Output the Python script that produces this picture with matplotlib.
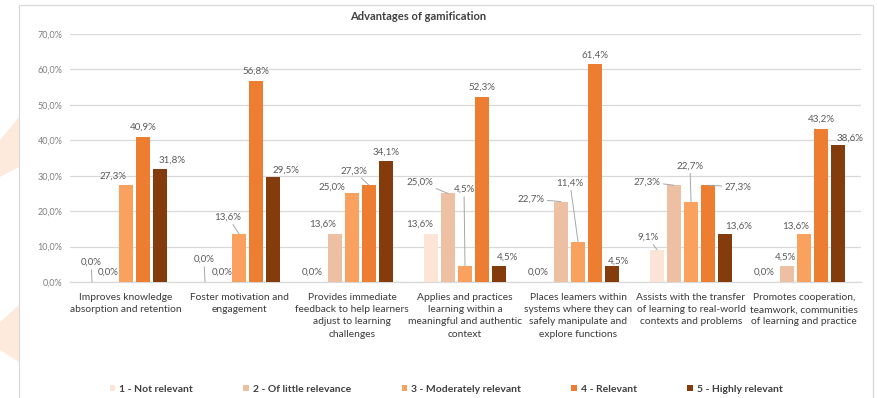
import matplotlib
matplotlib.use("Agg")
import matplotlib.pyplot as plt
from matplotlib.patches import Rectangle, Polygon

plt.rcParams['font.family'] = ['Lato', 'DejaVu Sans']

# ---- data ----
categories = [
    "Improves knowledge\nabsorption and retention",
    "Foster motivation and\nengagement",
    "Provides immediate\nfeedback to help learners\nadjust to learning\nchallenges",
    "Applies and practices\nlearning within a\nmeaningful and authentic\ncontext",
    "Places leamers within\nsystems where they can\nsafely manipulate and\nexplore functions",
    "Assists with the transfer\nof learning to real-world\ncontexts and problems",
    "Promotes cooperation,\nteamwork, communities\nof learning and practice",
]
series_names = [
    "1 - Not relevant",
    "2 - Of little relevance",
    "3 - Moderately relevant",
    "4 - Relevant",
    "5 - Highly relevant",
]
not_relevant      = [0.0, 0.0, 0.0, 13.6, 0.0, 9.1, 0.0]
little_relevance  = [0.0, 0.0, 13.6, 25.0, 22.7, 27.3, 4.5]
moderately        = [27.3, 13.6, 25.0, 4.5, 11.4, 22.7, 13.6]
relevant          = [40.9, 56.8, 27.3, 52.3, 61.4, 27.3, 43.2]
highly_relevant   = [31.8, 29.5, 34.1, 4.5, 4.5, 13.6, 38.6]
series_values = [not_relevant, little_relevance, moderately, relevant, highly_relevant]
y_ticks = [0, 10, 20, 30, 40, 50, 60, 70]

# ---- style ----
colors = ["#FCE4D6", "#EEC0A3", "#FBA160", "#ED7D31", "#843C0C"]
label_color = "#595959"
grid_color = "#D9D9D9"

# data-label placement: (group, series) -> (dx px, dy px, leader line)
label_offsets = {
    (0, 0): (-1, 15, True), (0, 1): (-1, 5, False), (0, 2): (-13, 5, False),
    (0, 4): (12, 5, False),
    (1, 0): (-1, 18, True), (1, 1): (0, 5, False), (1, 2): (-11, 12, True),
    (1, 4): (13, 3, False),
    (2, 0): (-6, 5, False), (2, 1): (-12, 5, False), (2, 2): (-20, 2, False),
    (2, 3): (-15, 10, True),
    (3, 0): (-11, 5, False), (3, 1): (-28, 7, True), (3, 2): (-1, 72, True),
    (3, 4): (8, 4, False),
    (4, 0): (-6, 5, False), (4, 1): (-30, -2, True), (4, 2): (-8, 54, True),
    (4, 4): (6, 0, False),
    (5, 0): (-9, 8, True), (5, 1): (-27, -1, True), (5, 2): (-1, 31, True),
    (5, 3): (30, -6, True), (5, 4): (14, 3, False),
    (6, 0): (-6, 5, False), (6, 1): (-2, 4, False), (6, 2): (-8, 3, False),
    (6, 4): (12, 3, False),
}

W, H = 877, 398
fig = plt.figure(figsize=(W / 100, H / 100), dpi=100)
fig.patch.set_facecolor("white")

# decorative background shapes and chart frame (figure pixel coords, top origin)
def fig_pts(pts):
    return [(x / W, 1 - y / H) for x, y in pts]

for pts in ([(0, 140), (19, 117), (19, 167), (0, 177)],
            [(0, 322), (19, 305), (19, 362), (0, 350)]):
    fig.patches.append(Polygon(fig_pts(pts), closed=True, transform=fig.transFigure,
                               facecolor="#FDEADC", edgecolor="none", zorder=-2))
fig.patches.append(Rectangle((19 / W, -0.05), (873 - 19) / W, 1.05 - 5 / H,
                             transform=fig.transFigure, facecolor="white",
                             edgecolor=grid_color, lw=0.9, zorder=-1))

ax = fig.add_axes([69.5 / W, (H - 282) / H, 791 / W, 248 / H])
ax.set_facecolor("none")
ax.set_zorder(1)

step = 17 / 113
width = 13.5 / 113
n = len(series_values)
x_groups = list(range(len(categories)))
for s, (vals, col, name) in enumerate(zip(series_values, colors, series_names)):
    xs = [g + (s - (n - 1) / 2) * step for g in x_groups]
    ax.bar(xs, vals, width=width, color=col, label=name, zorder=3)
    for g, (x, v) in enumerate(zip(xs, vals)):
        dx, dy, leader = label_offsets.get((g, s), (0, 5, False))
        txt = f"{v:.1f}%".replace(".", ",")
        kw = {}
        if leader:
            kw["arrowprops"] = dict(arrowstyle="-", color="#A6A6A6", lw=0.7,
                                    shrinkA=0, shrinkB=0)
        ax.annotate(txt, xy=(x, v), xytext=(dx, dy), textcoords="offset pixels",
                    ha="center", va="bottom", fontsize=7, color=label_color,
                    zorder=5, **kw)

ax.set_xlim(-0.5, len(categories) - 0.5)
ax.set_ylim(0, 70)
ax.set_yticks(y_ticks)
ax.set_yticklabels([f"{t:.1f}%".replace(".", ",") for t in y_ticks],
                   fontsize=6.5, color="#7F7F7F")
ax.set_xticks(x_groups)
ax.set_xticklabels(categories, fontsize=7.4, color="#3A3A3A", linespacing=1.45)
ax.tick_params(axis="both", length=0)
ax.tick_params(axis="y", pad=5)
ax.tick_params(axis="x", pad=8)
ax.grid(axis="y", color=grid_color, lw=0.9, zorder=0)
for side in ("top", "right", "left"):
    ax.spines[side].set_visible(False)
ax.spines["bottom"].set_color(grid_color)
ax.spines["bottom"].set_linewidth(0.9)

fig.text(418 / W, 1 - 17 / H, "Advantages of gamification", ha="center",
         va="center", fontsize=8, fontweight="bold", color="#404040")

leg = fig.legend(loc="center", bbox_to_anchor=(446 / W, 1 - 389 / H), ncol=5,
                 frameon=False, fontsize=7.5, handlelength=0.55, handleheight=0.55,
                 handletextpad=0.35, columnspacing=4.85)
for t in leg.get_texts():
    t.set_color("#404040")
    t.set_fontweight("bold")

fig.savefig("out.png", dpi=100, facecolor="white")
